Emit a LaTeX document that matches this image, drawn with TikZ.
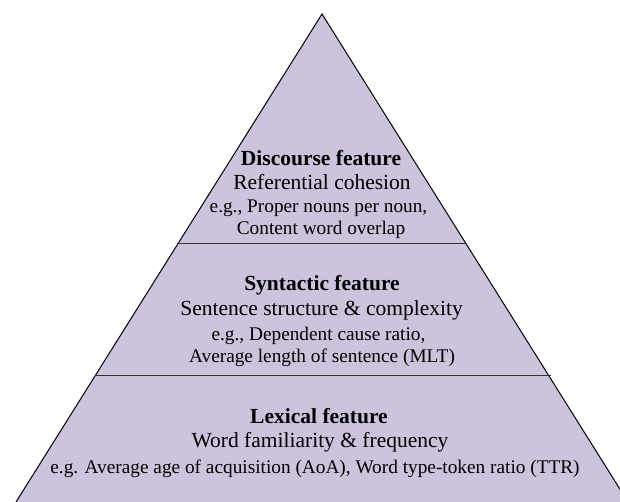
\documentclass[tikz,border=0pt]{standalone}
\usepackage{fontspec}
\setmainfont{Liberation Serif}
\definecolor{pyrfill}{RGB}{203,196,220}
\definecolor{sepline}{RGB}{50,50,55}
\tikzset{
  head/.style={font=\fontsize{21.5}{24}\selectfont\bfseries, inner sep=0pt, anchor=base},
  sub/.style={font=\fontsize{21.5}{24}\selectfont, inner sep=0pt, anchor=base},
  ex/.style={font=\fontsize{19.3}{22}\selectfont, inner sep=0pt, anchor=base},
}
\begin{document}
\begin{tikzpicture}[x=1pt,y=-1pt]
\useasboundingbox (0,0) rectangle (620,502);
\coordinate (apex) at (322,14);
\coordinate (bl) at (16,502);
\coordinate (br) at (628,502);
\begin{scope}
\clip (0,0) rectangle (620,502);
\fill[pyrfill] (apex) -- (bl) -- (br) -- cycle;
\draw[black, line width=1pt, line join=miter] (bl) -- (apex) -- (br);
\end{scope}
\coordinate (l1a) at (177,244);
\coordinate (l1b) at (465,244);
\coordinate (l2a) at (95,375);
\coordinate (l2b) at (551,375);
\draw[sepline, line width=1pt] (l1a) -- (l1b);
\draw[sepline, line width=1pt] (l2a) -- (l2b);
% Discourse
\node[head] (d1) at (321,166) {Discourse feature};
\node[sub]  (d2) at (322,190) {Referential cohesion};
\node[ex]   (d3) at (318.5,213) {e.g., Proper nouns per noun,};
\node[ex]   (d4) at (321,235) {Content word overlap};
% Syntactic
\node[head] (s1) at (322,290) {Syntactic feature};
\node[sub]  (s2) at (321.5,315) {Sentence structure \& complexity};
\node[ex]   (s3) at (318.5,340) {e.g., Dependent cause ratio,};
\node[ex]   (s4) at (322,362) {Average length of sentence (MLT)};
% Lexical
\node[head] (x1) at (319,423) {Lexical feature};
\node[sub]  (x2) at (320,447) {Word familiarity \& frequency};
\node[ex]   (x3) at (315,473) {e.g. Average age of acquisition (AoA), Word type-token ratio (TTR)};
\end{tikzpicture}
\end{document}
